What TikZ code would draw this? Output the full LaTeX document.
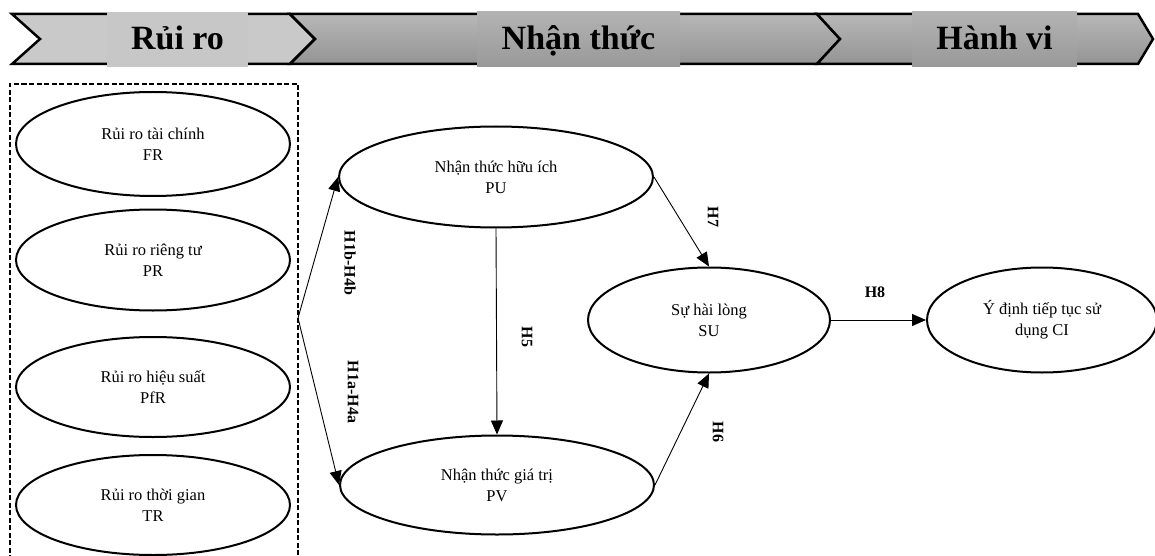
\documentclass[tikz,border=0pt]{standalone}
\usepackage{fontspec}
\setmainfont{Liberation Serif}
\usetikzlibrary{shapes.geometric,arrows.meta}
\tikzset{
  cons/.style={draw, line width=2pt, ellipse, align=center, inner sep=0pt,
    font=\fontsize{16.5}{21}\selectfont},
  link/.style={draw, line width=0.9pt, -{Triangle[length=14pt,width=12pt]}},
  hlab/.style={font=\bfseries\fontsize{16}{18}\selectfont, rotate=-90},
  band/.style={draw, line width=2.5pt, line join=miter},
  bandtext/.style={inner sep=0pt, text height=25pt, text depth=5pt, minimum height=55pt,
    font=\bfseries\fontsize{34}{36}\selectfont},
}
\begin{document}
\begin{tikzpicture}[x=1pt,y=-1pt]
\useasboundingbox (0,0) rectangle (1155,556);
% banner
\path[band, fill=black!21] (12,14) -- (290,14) -- (315,39) -- (290,64) -- (12,64) -- (40,39) -- cycle;
\path[band, top color=black!28, bottom color=black!42] (290,14) -- (817,14) -- (840,39) -- (817,64) -- (290,64) -- (315,39) -- cycle;
\path[band, top color=black!28, bottom color=black!42] (817,14) -- (1138,14) -- (1153,39) -- (1138,64) -- (817,64) -- (840,39) -- cycle;
\node[bandtext, fill=black!22, minimum width=141pt] (t1) at (177.5,39.5) {Rủi ro};
\node[bandtext, top color=black!30, bottom color=black!40, minimum width=203pt] (t2) at (578.5,39.5) {Nhận thức};
\node[bandtext, top color=black!30, bottom color=black!40, minimum width=165pt] (t3) at (994.5,39.5) {Hành vi};
% dashed group
\draw[line width=1.5pt, dash pattern=on 5pt off 2.5pt] (10,560) -- (10,84) -- (298,84) -- (298,560);
% left constructs
\node[cons, minimum width=274pt, minimum height=104pt] (FR) at (153,144) {Rủi ro tài chính\\FR};
\node[cons, minimum width=274pt, minimum height=101pt] (PR) at (153,260) {Rủi ro riêng tư\\PR};
\node[cons, minimum width=274pt, minimum height=100pt] (PfR) at (153,387) {Rủi ro hiệu suất\\PfR};
\node[cons, minimum width=274pt, minimum height=100pt] (TR) at (153,505) {Rủi ro thời gian\\TR};
% middle constructs
\node[cons, minimum width=314pt, minimum height=101pt] (PU) at (496,177) {Nhận thức hữu ích\\PU};
\node[cons, minimum width=314pt, minimum height=99pt] (PV) at (497,485) {Nhận thức giá trị\\PV};
\node[cons, minimum width=242pt, minimum height=105pt] (SU) at (709,320) {Sự hài lòng\\SU};
\node[cons, minimum width=230pt, minimum height=105pt] (CI) at (1042,320) {Ý định tiếp tục sử\\dụng CI};
% connectors
\coordinate (br) at (298,318);
\draw[link] (br) -- (PU.west);
\draw[link] (br) -- (PV.west);
\draw[link] (PU.south) -- (PV.north);
\draw[link] (PU.east) -- (SU.north);
\draw[link] (PV.east) -- (SU.south);
\draw[link] (SU.east) -- (CI.west);
% labels
\node[hlab] (l1) at (350,263) {H1b-H4b};
\node[hlab] (l2) at (353,392) {H1a-H4a};
\node[hlab] (l5) at (527,337) {H5};
\node[hlab] (l7) at (713,217) {H7};
\node[hlab] (l6) at (718,432) {H6};
\node[font=\bfseries\fontsize{16}{18}\selectfont] (l8) at (875,292) {H8};
\end{tikzpicture}
\end{document}
